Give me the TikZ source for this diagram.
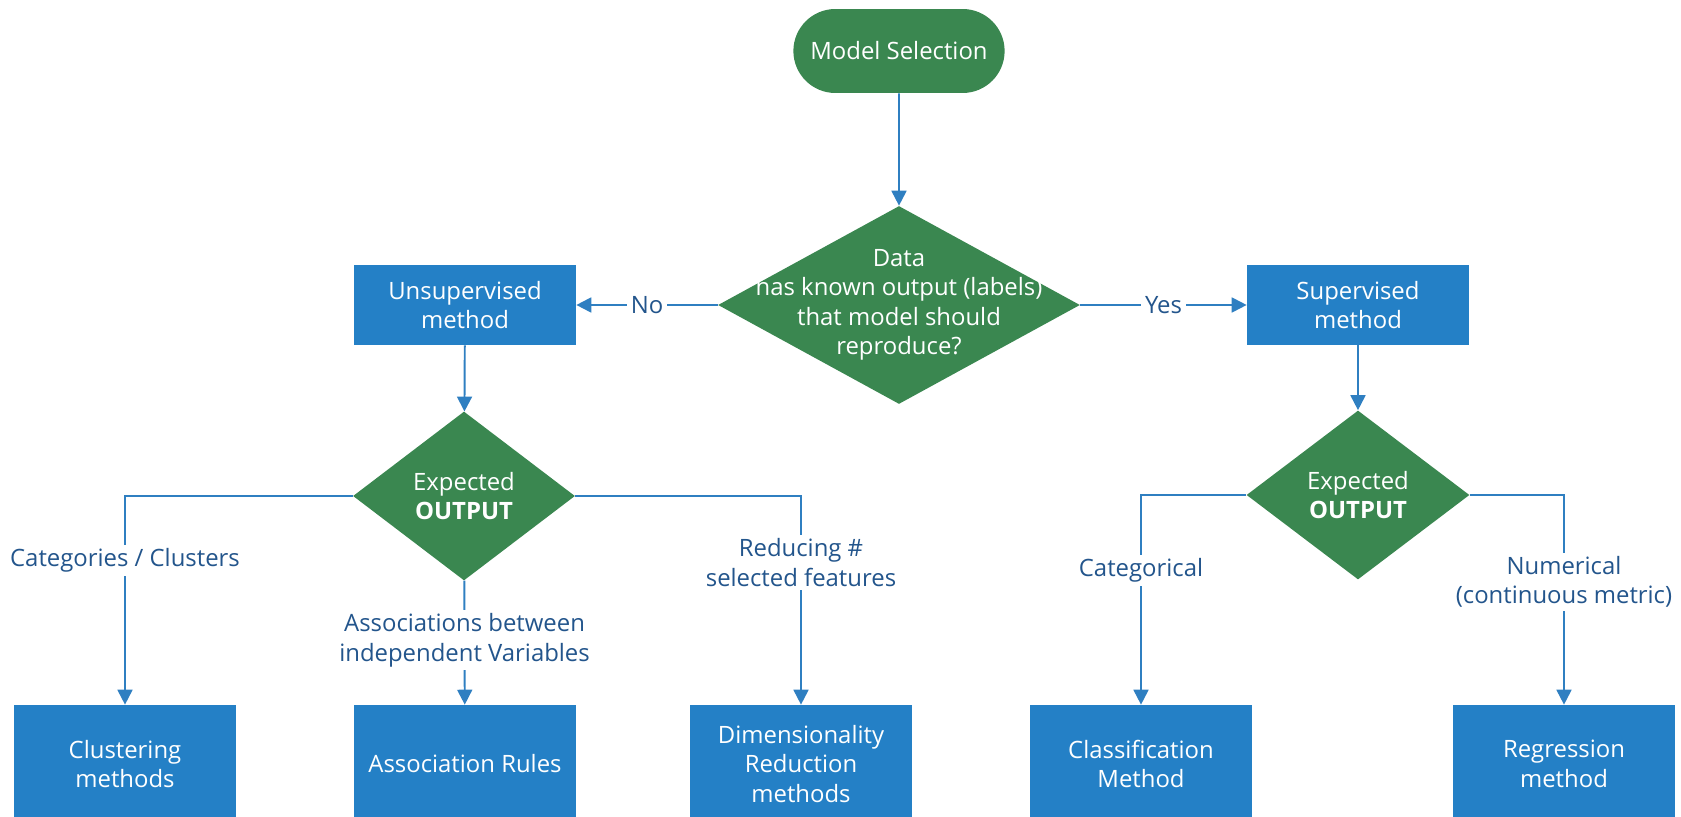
\documentclass[tikz,border=0pt]{standalone}
\usepackage{fontspec}
\setmainfont{Open Sans}
\usetikzlibrary{shapes.geometric,shapes.misc,arrows.meta}
\definecolor{flowgreen}{RGB}{58,135,80}
\definecolor{flowblue}{RGB}{36,128,198}
\definecolor{lineblue}{RGB}{47,127,193}
\definecolor{textblue}{RGB}{35,85,140}
\begin{document}
\begin{tikzpicture}[x=0.02cm,y=-0.02cm,
  every node/.style={font=\fontsize{13.6}{16.8}\selectfont, align=center},
  startbox/.style={rounded rectangle, fill=flowgreen, text=white, minimum width=4.46cm, minimum height=1.68cm},
  decision/.style={diamond, fill=flowgreen, inner sep=0pt},
  whitetxt/.style={text=white},
  methodbox/.style={rectangle, fill=flowblue, text=white, minimum width=4.44cm, minimum height=1.6cm},
  leafbox/.style={methodbox, minimum height=2.36cm},
  arr/.style={draw=lineblue, line width=1.1pt, -{Triangle[length=8.5pt,width=8.5pt]}},
  lbl/.style={fill=white, text=textblue, inner sep=2pt}]
\useasboundingbox (0,0) rectangle (1681,817);
\clip (0,0) rectangle (1681,817);
% top of the chart
\node[startbox] (start) at (899,51) {Model Selection};
\node[decision, minimum width=7.24cm, minimum height=3.96cm] (known) at (899,305) {};
\node[whitetxt] at (known) {Data\\has known output (labels)\\that model should\\reproduce?};
\node[methodbox] (unsup) at (465,305) {Unsupervised\\method};
\node[methodbox] (sup) at (1358,305) {Supervised\\method};
\draw[arr] (start) -- (known);
\draw[arr] (known) -- node[lbl] {No} (unsup);
\draw[arr] (known) -- node[lbl] {Yes} (sup);
% unsupervised branch
\node[decision, minimum width=4.44cm, minimum height=3.38cm] (outU) at (464,496) {};
\node[whitetxt] at (outU) {Expected\\\textbf{OUTPUT}};
\node[leafbox] (clus) at (125,764) {Clustering\\methods};
\node[leafbox] (assoc) at (465,764) {Association Rules};
\node[leafbox] (dimred) at (801,764) {Dimensionality\\Reduction\\methods};
\draw[arr] (unsup) -- (outU);
\draw[arr] (outU.west) -| node[lbl, pos=0.655] {Categories / Clusters} (clus);
\draw[arr] (outU) -- node[lbl, pos=0.48] {Associations between\\independent Variables} (assoc);
\draw[arr] (outU.east) -| node[lbl, pos=0.66] {Reducing \#\\selected features} (dimred);
% supervised branch
\node[decision, minimum width=4.46cm, minimum height=3.38cm] (outS) at (1358,495) {};
\node[whitetxt] at (outS) {Expected\\\textbf{OUTPUT}};
\node[leafbox] (classif) at (1141,764) {Classification\\Method};
\node[leafbox] (regr) at (1564,764) {Regression\\method};
\draw[arr] (sup) -- (outS);
\draw[arr] (outS.west) -| node[lbl, pos=0.68] {Categorical} (classif);
\draw[arr] (outS.east) -| node[lbl, pos=0.707] {Numerical\\(continuous metric)} (regr);
\end{tikzpicture}
\end{document}
